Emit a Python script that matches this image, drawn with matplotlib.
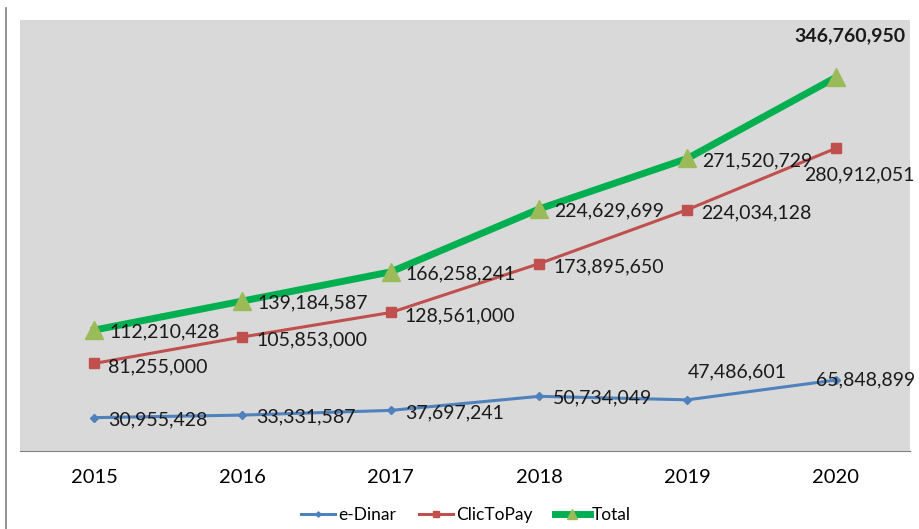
import matplotlib.pyplot as plt
from matplotlib.lines import Line2D

plt.rcParams['font.family'] = ['Lato', 'DejaVu Sans']

years = ['2015', '2016', '2017', '2018', '2019', '2020']
edinar = [30955428, 33331587, 37697241, 50734049, 47486601, 65848899]
clictopay = [81255000, 105853000, 128561000, 173895650, 224034128, 280912051]
total = [112210428, 139184587, 166258241, 224629699, 271520729, 346760950]

W, H = 919, 529
fig = plt.figure(figsize=(W / 100, H / 100), dpi=100)
ax = fig.add_axes([20 / W, (H - 451) / H, 890 / W, 431 / H])
ax.set_facecolor('#d9d9d9')

x = list(range(len(years)))
ax.plot(x, edinar, color='#4f81bd', lw=2.2, marker='D', ms=4.5,
        mfc='#4f81bd', mec='#4f81bd', label='e-Dinar')
ax.plot(x, clictopay, color='#c0504d', lw=2.2, marker='s', ms=6.5,
        mfc='#c0504d', mec='#c0504d', label='ClicToPay')
ax.plot(x, total, color='#00b050', lw=5, marker='^', ms=13,
        mfc='#9bbb59', mec='#9bbb59', label='Total')

ax.set_xlim(-0.5, 5.5)
ax.set_ylim(0, 400e6)
ax.set_yticks([])
ax.set_xticks(x)
ax.set_xticklabels(years, fontsize=14.5)
ax.tick_params(axis='x', length=0, pad=13)
for s in ['top', 'left', 'right']:
    ax.spines[s].set_visible(False)
ax.spines['bottom'].set_color('#808080')


def lab(xi, yi, dx, dy, ha='left', bold=False):
    ax.annotate(f'{yi:,}', (xi, yi), xytext=(dx, dy), textcoords='offset pixels',
                ha=ha, va='center', fontsize=14,
                fontweight='bold' if bold else 'normal', color='#1a1a1a')


for i in range(5):
    lab(i, total[i], 15, -2)
lab(5, total[5], 14, 42, ha='center', bold=True)

for i in range(5):
    lab(i, clictopay[i], 14, -3)
lab(5, clictopay[5], -32, -27)

for i in range(4):
    lab(i, edinar[i], 14, -2)
lab(4, edinar[4], 0, 28)
lab(5, edinar[5], -20, 0)

fig.legend(loc='center', bbox_to_anchor=(466 / W, (H - 515) / H), ncol=3,
           frameon=False, fontsize=12.5, handlelength=2.0, columnspacing=1.3,
           handletextpad=0.15, markerscale=0.6)

fig.add_artist(Line2D([6 / W, 6 / W], [0, (H - 8) / H], color='#808080', lw=1.2))

fig.savefig('out.png', dpi=100)
